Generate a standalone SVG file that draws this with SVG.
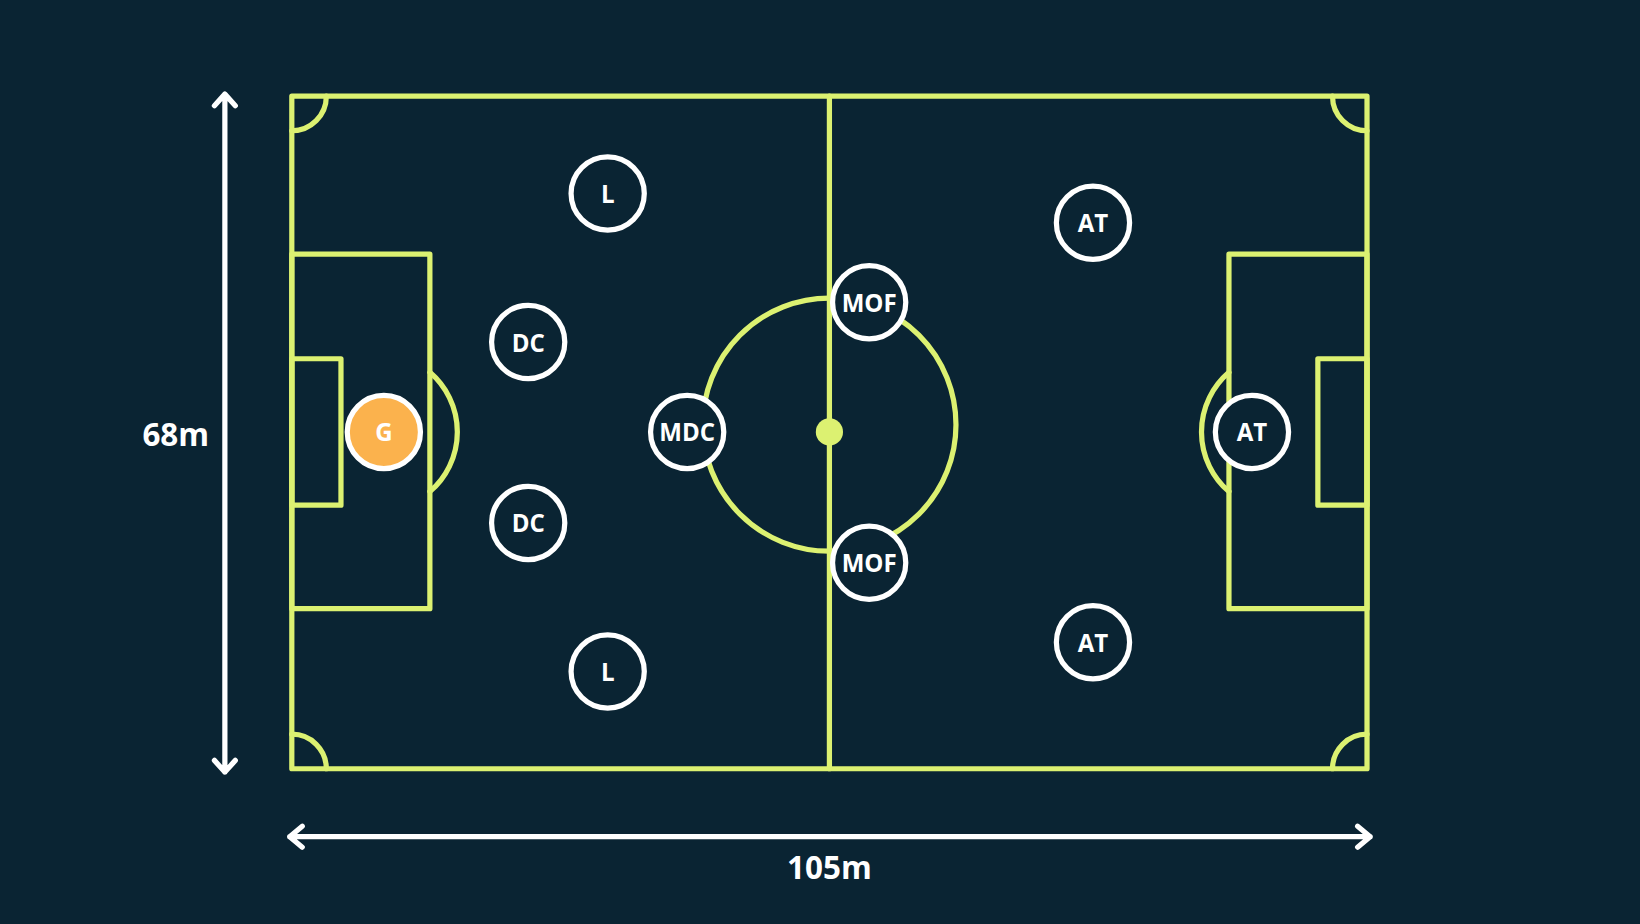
<svg xmlns="http://www.w3.org/2000/svg" width="1640" height="924" viewBox="0 0 1640 924">
<style>
.ln{fill:none;stroke:#DCF171;stroke-width:5;stroke-linejoin:round;stroke-linecap:round}
.pl circle{fill:#0A2433;stroke:#fff;stroke-width:5}
.pl text{fill:#fff;font-family:"Open Sans","Noto Sans",sans-serif;font-weight:700;font-size:23px;text-anchor:middle;dominant-baseline:central}
.dim{fill:#fff;font-family:"Open Sans","Noto Sans",sans-serif;font-weight:700;font-size:30px;text-anchor:middle;dominant-baseline:central}
.ar{stroke:#fff;stroke-width:5;fill:none;stroke-linecap:round;stroke-linejoin:round}
</style>
<rect width="1640" height="924" fill="#0A2433"/>
<g transform="scale(1.04592)">
<g id="field">
<rect class="ln" x="279" y="92" width="1028" height="643"/>
<line class="ln" x1="793" y1="92" x2="793" y2="735"/>
<circle class="ln" cx="793" cy="406" r="121"/>
<circle cx="793" cy="413" r="13" fill="#DCF171"/>
<rect class="ln" x="279" y="243" width="132" height="339"/>
<rect class="ln" x="279" y="343" width="47" height="140"/>
<path class="ln" d="M411 356 A75 75 0 0 1 411 470"/>
<rect class="ln" x="1175" y="243" width="132" height="339"/>
<rect class="ln" x="1260" y="343" width="47" height="140"/>
<path class="ln" d="M1175 356 A75 75 0 0 0 1175 470"/>
<path class="ln" d="M279 125 A33 33 0 0 0 312 92"/>
<path class="ln" d="M1274 92 A33 33 0 0 0 1307 125"/>
<path class="ln" d="M279 702 A33 33 0 0 1 312 735"/>
<path class="ln" d="M1274 735 A33 33 0 0 1 1307 702"/>
</g>
<g id="connectors">
<path class="ar" d="M215 90 V738 M205 101 L215 90 L225 101 M205 727 L215 738 L225 727"/>
<path class="ar" d="M277 800 H1310 M289 790 L277 800 L289 810 M1298 790 L1310 800 L1298 810"/>
</g>
<text class="dim" x="168" y="414">68m</text>
<text class="dim" x="793" y="828">105m</text>
<g id="g" class="pl"><circle cx="367" cy="413" r="35" style="fill:#FBB24D"/><text x="367" y="413">G</text></g>
<g id="l1" class="pl"><circle cx="581" cy="185" r="35"/><text x="581" y="185">L</text></g>
<g id="dc1" class="pl"><circle cx="505" cy="327" r="35"/><text x="505" y="327">DC</text></g>
<g id="dc2" class="pl"><circle cx="505" cy="500" r="35"/><text x="505" y="500">DC</text></g>
<g id="l2" class="pl"><circle cx="581" cy="642" r="35"/><text x="581" y="642">L</text></g>
<g id="mdc" class="pl"><circle cx="657" cy="413" r="35"/><text x="657" y="413">MDC</text></g>
<g id="mof1" class="pl"><circle cx="831" cy="289" r="35"/><text x="831" y="289">MOF</text></g>
<g id="mof2" class="pl"><circle cx="831" cy="538" r="35"/><text x="831" y="538">MOF</text></g>
<g id="at1" class="pl"><circle cx="1045" cy="213" r="35"/><text x="1045" y="213">AT</text></g>
<g id="at2" class="pl"><circle cx="1197" cy="413" r="35"/><text x="1197" y="413">AT</text></g>
<g id="at3" class="pl"><circle cx="1045" cy="614" r="35"/><text x="1045" y="614">AT</text></g>
</g>
</svg>
